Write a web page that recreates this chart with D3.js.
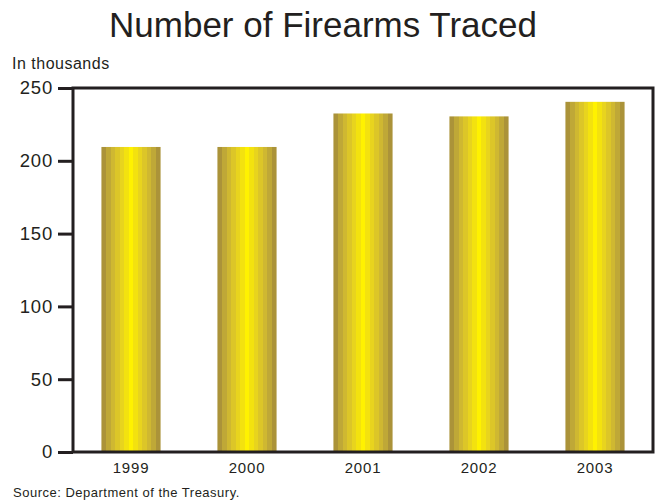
<!DOCTYPE html>
<html><head><meta charset="utf-8">
<script src="https://cdn.jsdelivr.net/npm/d3@7"></script>
<style>body{margin:0;background:#fff}svg{display:block}text{font-family:"Liberation Sans",Arial,sans-serif;fill:#231f20}</style>
</head><body>
<svg id="c" width="655" height="503"></svg>
<script>
const years = ["1999","2000","2001","2002","2003"];
const traced = [209.5, 209.5, 232.5, 230.5, 240.5];
const yTicks = [0,50,100,150,200,250];
const stripeColors = ["#ab9339","#bfa837","#cfb831","#dcc628","#e8d41e","#f3e20f","#fff200","#f3e20f","#e8d41e","#dcc628","#cfb831","#bfa837","#ab9339"];

const svg = d3.select("#c");
const L=73, R=653, T=88, B=452;
const x = d3.scaleBand().domain(years).range([L,R]).paddingInner(0.49).paddingOuter(0.245);
const y = d3.scaleLinear().domain([0,250]).range([B,T]);

const defs = svg.append("defs");
const g = defs.append("linearGradient").attr("id","bar").attr("x1","0").attr("x2","1").attr("y1","0").attr("y2","0");
const n = stripeColors.length;
stripeColors.forEach((c,i)=>{
  g.append("stop").attr("offset",(i/n)).attr("stop-color",c);
  g.append("stop").attr("offset",((i+1)/n)).attr("stop-color",c);
});

svg.append("text").attr("x",323).attr("y",37).attr("text-anchor","middle").attr("font-size",35).text("Number of Firearms Traced");
svg.append("text").attr("x",12).attr("y",69).attr("font-size",16).attr("letter-spacing",0.5).text("In thousands");

svg.selectAll("rect.bar").data(traced).join("rect").attr("class","bar")
  .attr("x",(d,i)=>x(years[i])).attr("width",x.bandwidth())
  .attr("y",d=>y(d)).attr("height",d=>B-y(d)).attr("fill","url(#bar)");

// frame
svg.append("path").attr("d",`M${L},${B}V${T}H${R}V${B}Z`).attr("fill","none").attr("stroke","#231f20").attr("stroke-width",3);

const ya = svg.append("g").attr("transform",`translate(${L},0)`).call(d3.axisLeft(y).tickValues(yTicks).tickSize(15).tickPadding(5));
ya.select(".domain").remove();
ya.selectAll("line").attr("stroke","#231f20").attr("stroke-width",3);
ya.selectAll("text").attr("font-size",18.5).attr("letter-spacing",0.8).attr("font-family","'Liberation Sans',Arial,sans-serif").attr("fill","#231f20");

const xa = svg.append("g").attr("transform",`translate(0,${B})`).call(d3.axisBottom(x).tickSize(0).tickPadding(10));
xa.select(".domain").remove();
xa.selectAll("text").attr("font-size",15).attr("letter-spacing",0.8).attr("font-family","'Liberation Sans',Arial,sans-serif").attr("fill","#231f20");

svg.append("text").attr("x",13).attr("y",497).attr("font-size",13).attr("letter-spacing",0.5).text("Source: Department of the Treasury.");
</script>
</body></html>
